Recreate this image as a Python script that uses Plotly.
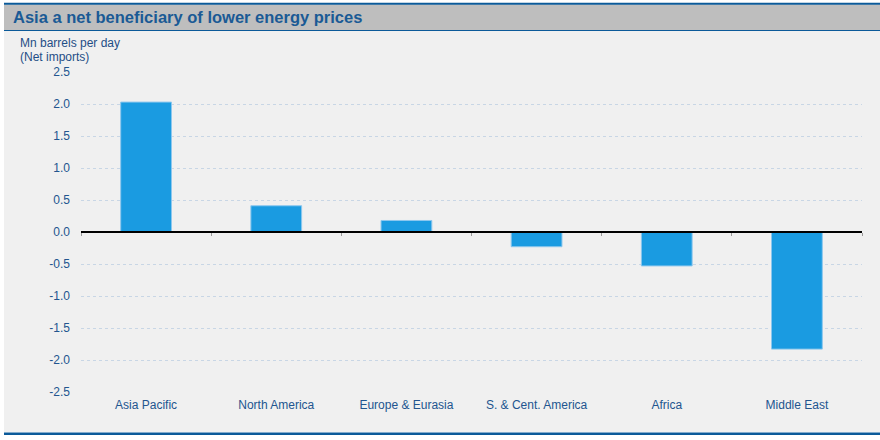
import plotly.graph_objects as go

categories = ["Asia Pacific", "North America", "Europe & Eurasia",
              "S. & Cent. America", "Africa", "Middle East"]
net_imports = [2.03, 0.41, 0.18, -0.23, -0.53, -1.83]
y_ticks = [2.5, 2.0, 1.5, 1.0, 0.5, 0.0, -0.5, -1.0, -1.5, -2.0, -2.5]
y_tick_text = [f"{v:.1f}" for v in y_ticks]
boundaries = [i - 0.5 for i in range(len(categories) + 1)]
unit_lines = ["Mn barrels per day", "(Net imports)"]

W, H = 880, 440
ML, MR, MT, MB = 81, 18, 72, 48
PW, PH = W - ML - MR, H - MT - MB


def px_x(x):
    return (x - ML) / PW


def px_y(y):
    return (H - MB - y) / PH


BLUE = "#0b5a99"
TXT = "#22558f"

fig = go.Figure()
fig.add_trace(go.Bar(
    x=categories, y=net_imports,
    marker=dict(color="#1a9be1", line=dict(color="#8cc7ee", width=1)),
    hoverinfo="x+y", showlegend=False,
))
# helper trace to carry the zero-line axis with boundary ticks
fig.add_trace(go.Scatter(x=[], y=[], xaxis="x2", showlegend=False))

annotations = [
    dict(text="<b>Asia a net beneficiary of lower energy prices</b>",
         xref="paper", yref="paper", x=px_x(11), y=px_y(17),
         xanchor="left", yanchor="middle", showarrow=False,
         font=dict(size=16.5, color="#1a5a95")),
]
for i, line in enumerate(unit_lines):
    annotations.append(dict(
        text=line, xref="paper", yref="paper", x=px_x(18), y=px_y(43 + 14 * i),
        xanchor="left", yanchor="middle", showarrow=False,
        font=dict(size=12, color="#1f4e86")))

fig.update_layout(
    width=W, height=H,
    margin=dict(l=ML, r=MR, t=MT, b=MB),
    paper_bgcolor="white",
    plot_bgcolor="rgba(0,0,0,0)",
    bargap=0.61,
    font=dict(family="Liberation Sans, Arial, sans-serif", size=12, color=TXT),
    xaxis=dict(
        type="category", showgrid=False, zeroline=False, showline=False,
        ticks="", tickfont=dict(size=12, color=TXT), ticklabelstandoff=4,
        range=[-0.5, len(categories) - 0.5],
    ),
    xaxis2=dict(
        overlaying="x", anchor="free", position=0.5, side="bottom",
        range=[-0.5, len(categories) - 0.5], showgrid=False, zeroline=False,
        showline=True, linecolor="black", linewidth=1.5,
        tickvals=boundaries, ticks="outside", ticklen=3, tickwidth=1,
        tickcolor="#9a9a9a", showticklabels=False,
    ),
    yaxis=dict(
        range=[-2.5, 2.5], tickvals=y_ticks, ticktext=y_tick_text,
        showgrid=True, gridcolor="#c8d6e5", griddash="dot", gridwidth=1,
        zeroline=False, showline=False, ticks="",
        tickfont=dict(size=12, color=TXT), ticklabelstandoff=10,
    ),
    shapes=[
        dict(type="rect", xref="paper", yref="paper", layer="below",
             x0=px_x(4), x1=px_x(880), y0=px_y(432), y1=px_y(30),
             fillcolor="#f0f0f0", line=dict(width=0)),
        dict(type="rect", xref="paper", yref="paper", layer="below",
             x0=px_x(4), x1=px_x(880), y0=px_y(30), y1=px_y(4.5),
             fillcolor="#bebebe", line=dict(width=0)),
        dict(type="line", xref="paper", yref="paper",
             x0=px_x(4), x1=px_x(880), y0=px_y(3.7), y1=px_y(3.7),
             line=dict(color=BLUE, width=2)),
        dict(type="line", xref="paper", yref="paper",
             x0=px_x(4), x1=px_x(880), y0=px_y(30.5), y1=px_y(30.5),
             line=dict(color=BLUE, width=1.2)),
        dict(type="line", xref="paper", yref="paper",
             x0=px_x(4), x1=px_x(880), y0=px_y(433.8), y1=px_y(433.8),
             line=dict(color=BLUE, width=2.6)),
    ],
    annotations=annotations,
)

fig.write_html("out.html", config={"displayModeBar": False},
               post_script="document.body.style.margin='0';")
